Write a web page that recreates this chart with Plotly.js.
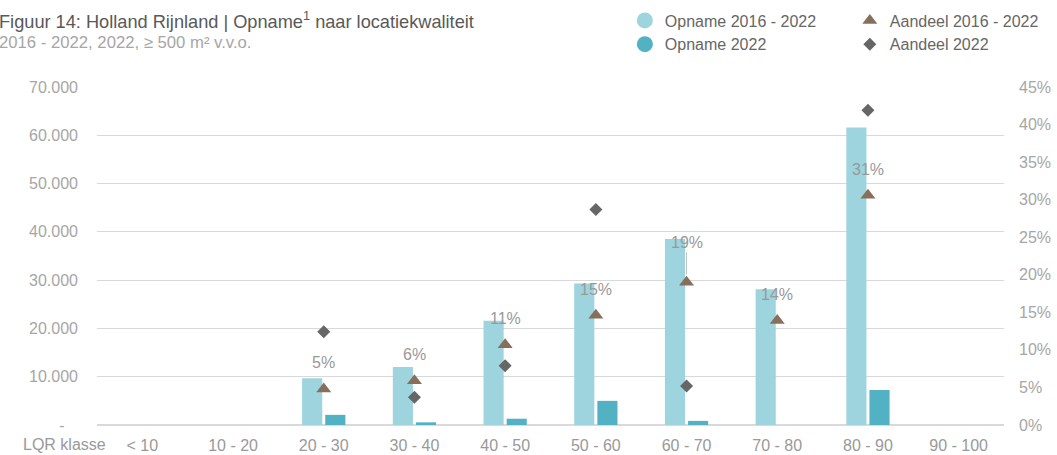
<!DOCTYPE html>
<html>
<head>
<meta charset="utf-8">
<script src="https://cdn.plot.ly/plotly-3.0.1.min.js"></script>
<style>
  body { margin: 0; background: #fff; }
  #chart { width: 1057px; height: 455px; }
</style>
</head>
<body>
<div id="chart"></div>
<script>
// LQR klassen
var categories = ['< 10', '10 - 20', '20 - 30', '30 - 40', '40 - 50', '50 - 60', '60 - 70', '70 - 80', '80 - 90', '90 - 100'];

// opname in m2 v.v.o. (linker as)
var opname1622 = [null, null, 9700, 12000, 21600, 29300, 38500, 28100, 61600, null];
var opname22 = [null, null, 2100, 550, 1300, 5000, 850, null, 7250, null];

// aandeel (rechter as)
var aandeel1622 = [null, null, 0.048, 0.059, 0.107, 0.146, 0.190, 0.139, 0.306, null];
var aandeel22 = [null, null, 0.124, 0.037, 0.079, 0.287, 0.052, null, 0.419, null];

// tick labels ("-" for zero, padded like the accounting format)
var leftTicks = [0, 10000, 20000, 30000, 40000, 50000, 60000, 70000];
var leftTickText = ['-\u00a0\u00a0\u00a0', '10.000', '20.000', '30.000', '40.000', '50.000', '60.000', '70.000'];
var rightTicks = [0, 0.05, 0.10, 0.15, 0.20, 0.25, 0.30, 0.35, 0.40, 0.45];

var lightBlue = '#9dd4dd';
var darkBlue = '#53b1c4';
var brown = '#86705c';
var grey = '#666666';
var font = 'Arial, "Liberation Sans", sans-serif';

var traces = [
  {
    x: categories, y: opname1622, type: 'bar', name: 'Opname 2016 - 2022',
    marker: { color: lightBlue }, showlegend: false, hoverinfo: 'y'
  },
  {
    x: categories, y: opname22, type: 'bar', name: 'Opname 2022',
    marker: { color: darkBlue }, showlegend: false, hoverinfo: 'y'
  },
  {
    x: categories, y: aandeel1622, type: 'scatter', mode: 'markers', yaxis: 'y2',
    name: 'Aandeel 2016 - 2022', marker: { symbol: 'triangle-up', size: 13, color: brown },
    legend: 'legend2'
  },
  {
    x: categories, y: aandeel22, type: 'scatter', mode: 'markers', yaxis: 'y2',
    name: 'Aandeel 2022', marker: { symbol: 'diamond', size: 10, color: grey },
    legend: 'legend2'
  },
  // legend entries with round symbols for the bars
  {
    x: [null], y: [null], type: 'scatter', mode: 'markers', name: 'Opname 2016 - 2022',
    marker: { symbol: 'circle', size: 16, color: lightBlue }
  },
  {
    x: [null], y: [null], type: 'scatter', mode: 'markers', name: 'Opname 2022',
    marker: { symbol: 'circle', size: 16, color: darkBlue }
  }
];

// percentage labels above the triangles
var annotations = [];
aandeel1622.forEach(function (v, i) {
  if (v === null) return;
  var lbl = {
    x: categories[i], y: v, xref: 'x', yref: 'y2',
    text: Math.round(v * 100) + '%',
    font: { family: font, size: 16, color: '#999999' },
    showarrow: false, yshift: 26
  };
  if (i === 6) {
    lbl.showarrow = true;
    lbl.arrowhead = 0;
    lbl.arrowwidth = 1;
    lbl.arrowcolor = '#bfbfbf';
    lbl.ax = 0;
    lbl.ay = -40;
    lbl.standoff = 8;
    lbl.yshift = 0;
  }
  annotations.push(lbl);
});

annotations.push({
  xref: 'paper', yref: 'paper', x: -0.110, y: 1.198, xanchor: 'left', yanchor: 'middle',
  text: 'Figuur 14: Holland Rijnland | Opname<sup>1</sup> naar locatiekwaliteit',
  showarrow: false, font: { family: font, size: 18.2, color: '#595959' }
});
annotations.push({
  xref: 'paper', yref: 'paper', x: -0.110, y: 1.132, xanchor: 'left', yanchor: 'middle',
  text: '2016 - 2022, 2022, ≥ 500 m² v.v.o.',
  showarrow: false, font: { family: font, size: 16.7, color: '#a6a6a6' }
});
annotations.push({
  xref: 'paper', yref: 'paper', x: 0.012, y: -0.059, xanchor: 'right', yanchor: 'middle',
  text: 'LQR klasse', showarrow: false, font: { family: font, size: 16, color: '#999999' }
});

var layout = {
  width: 1057, height: 455,
  margin: { l: 97, r: 53, t: 87, b: 30, autoexpand: false },
  paper_bgcolor: '#ffffff', plot_bgcolor: '#ffffff',
  font: { family: font, size: 16, color: '#999999' },
  barmode: 'group', bargap: 0.49, bargroupgap: 0.13,
  xaxis: {
    type: 'category', range: [-0.5, 9.5], showgrid: false, showline: false, ticks: '', tickangle: 0,
    ticklabelstandoff: 9, tickfont: { size: 16, color: '#999999' }
  },
  yaxis: {
    range: [0, 70000], tickvals: leftTicks, ticktext: leftTickText,
    showgrid: true, gridcolor: '#d9d9d9', gridwidth: 1,
    zeroline: true, zerolinecolor: '#d9d9d9', zerolinewidth: 1.5,
    ticks: '', ticklabelstandoff: 18, tickfont: { size: 16, color: '#a6a6a6' }
  },
  yaxis2: {
    range: [0, 0.45], tickvals: rightTicks, tickformat: '.0%', overlaying: 'y', side: 'right',
    showgrid: false, zeroline: false, ticks: '', ticklabelstandoff: 14,
    tickfont: { size: 16, color: '#a6a6a6' }
  },
  legend: {
    x: 0.582, y: 1.247, xanchor: 'left', yanchor: 'top',
    bgcolor: 'rgba(0,0,0,0)', font: { family: font, size: 16, color: '#666666' },
    tracegroupgap: 0
  },
  legend2: {
    x: 0.830, y: 1.247, xanchor: 'left', yanchor: 'top',
    bgcolor: 'rgba(0,0,0,0)', font: { family: font, size: 16, color: '#666666' },
    tracegroupgap: 0
  },
  annotations: annotations,
  hovermode: 'closest'
};

Plotly.newPlot('chart', traces, layout, { displayModeBar: false, staticPlot: true });
</script>
</body>
</html>
